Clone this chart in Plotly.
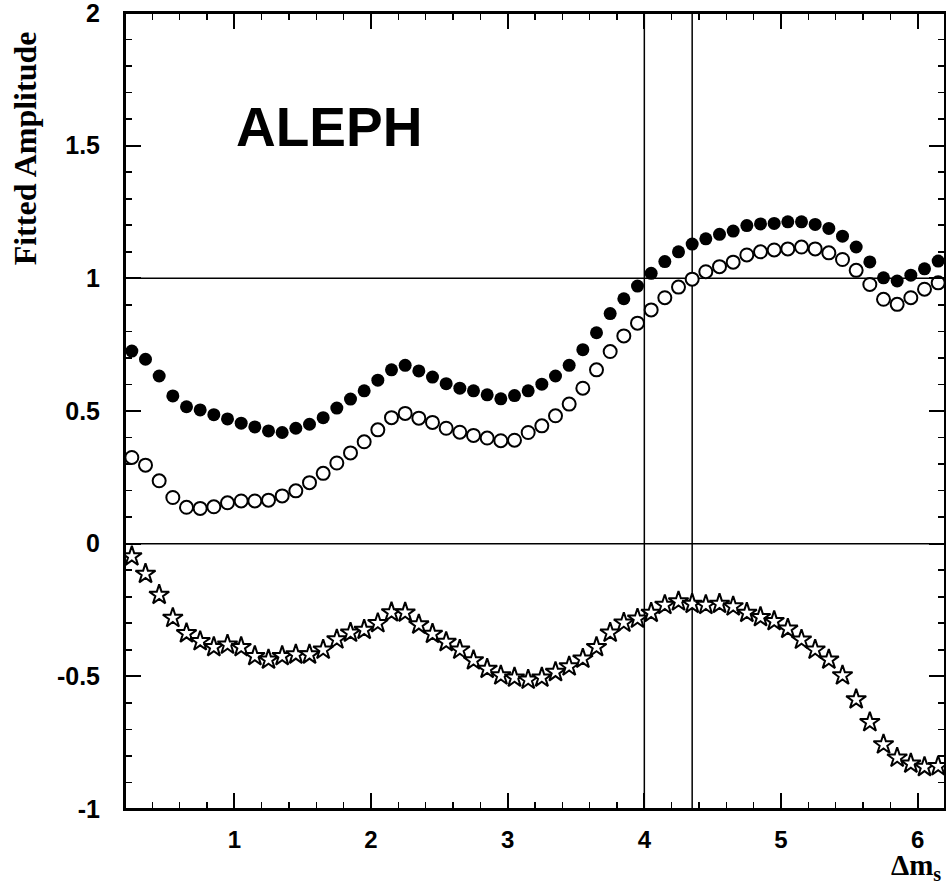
import numpy as np
import plotly.graph_objects as go

# Delta m_s grid (bin centres)
dms = np.round(np.arange(0.25, 6.2, 0.1), 2)

amp_filled = [0.726, 0.695, 0.632, 0.557, 0.516, 0.504, 0.486, 0.470, 0.454, 0.440,
              0.425, 0.419, 0.435, 0.450, 0.475, 0.511, 0.545, 0.576, 0.616, 0.655,
              0.672, 0.651, 0.628, 0.603, 0.586, 0.576, 0.561, 0.546, 0.558, 0.576,
              0.601, 0.632, 0.672, 0.731, 0.795, 0.867, 0.923, 0.971, 1.019, 1.063,
              1.100, 1.129, 1.149, 1.166, 1.178, 1.199, 1.205, 1.207, 1.213, 1.213,
              1.203, 1.188, 1.159, 1.118, 1.062, 1.002, 0.990, 1.012, 1.036, 1.065]

amp_open = [0.325, 0.296, 0.237, 0.174, 0.137, 0.133, 0.139, 0.154, 0.161, 0.161,
            0.164, 0.180, 0.199, 0.230, 0.265, 0.304, 0.342, 0.384, 0.429, 0.475,
            0.491, 0.473, 0.457, 0.435, 0.420, 0.408, 0.398, 0.388, 0.390, 0.419,
            0.444, 0.482, 0.526, 0.586, 0.655, 0.724, 0.783, 0.831, 0.881, 0.927,
            0.967, 0.997, 1.025, 1.044, 1.061, 1.088, 1.100, 1.107, 1.111, 1.118,
            1.111, 1.096, 1.071, 1.030, 0.977, 0.921, 0.902, 0.927, 0.959, 0.983]

amp_star = [-0.048, -0.114, -0.193, -0.280, -0.338, -0.368, -0.390, -0.381, -0.390, -0.424,
            -0.437, -0.424, -0.418, -0.418, -0.400, -0.361, -0.336, -0.325, -0.300, -0.259,
            -0.260, -0.305, -0.340, -0.371, -0.400, -0.440, -0.472, -0.497, -0.505, -0.513,
            -0.505, -0.484, -0.463, -0.434, -0.390, -0.336, -0.298, -0.283, -0.261, -0.231,
            -0.218, -0.227, -0.231, -0.227, -0.237, -0.261, -0.277, -0.292, -0.321, -0.362,
            -0.400, -0.437, -0.497, -0.587, -0.673, -0.757, -0.807, -0.829, -0.842, -0.839]

hlines = [0.0, 1.0]
vlines = [4.0, 4.35]

x_range = [0.2, 6.2]
y_range = [-1.0, 2.0]
x_ticks = [1, 2, 3, 4, 5, 6]
y_ticks = [-1, -0.5, 0, 0.5, 1, 1.5, 2]
y_ticklabels = ["-1", "-0.5", "0", "0.5", "1", "1.5", "2"]

SANS = "Liberation Sans, Arial, Helvetica, sans-serif"
SERIF = "Liberation Serif, Times New Roman, serif"

fig = go.Figure()

fig.add_trace(go.Scatter(x=dms, y=amp_filled, mode="markers",
                         marker=dict(symbol="circle", size=13, color="black",
                                     line=dict(width=0)),
                         showlegend=False, hoverinfo="skip"))
fig.add_trace(go.Scatter(x=dms, y=amp_open, mode="markers",
                         marker=dict(symbol="circle", size=13, color="white",
                                     line=dict(width=2, color="black")),
                         showlegend=False, hoverinfo="skip"))
fig.add_trace(go.Scatter(x=dms, y=amp_star, mode="markers",
                         marker=dict(symbol="star", size=15, color="white",
                                     line=dict(width=2, color="black")),
                         showlegend=False, hoverinfo="skip"))
# invisible trace that carries the mirrored (top / right) tick axes
fig.add_trace(go.Scatter(x=dms, y=amp_star, mode="markers", xaxis="x2", yaxis="y2",
                         marker=dict(size=1, opacity=0), showlegend=False,
                         hoverinfo="skip"))

for h in hlines:
    fig.add_shape(type="line", xref="paper", yref="y", x0=0, x1=1, y0=h, y1=h,
                  line=dict(color="black", width=1.5), layer="below")
for v in vlines:
    fig.add_shape(type="line", xref="x", yref="paper", x0=v, x1=v, y0=0, y1=1,
                  line=dict(color="black", width=1.5), layer="below")

# frame around the plotting area
fig.add_shape(type="rect", xref="paper", yref="paper", x0=0, x1=1, y0=0, y1=1,
              line=dict(color="black", width=2), fillcolor="rgba(0,0,0,0)",
              layer="above")

fig.add_annotation(text="ALEPH", x=1.0, y=1.57, xref="x", yref="y",
                   xanchor="left", yanchor="middle", showarrow=False,
                   font=dict(family=SANS, size=55, color="black", weight="bold"))

fig.add_annotation(text="Fitted Amplitude", xref="paper", yref="paper",
                   x=0, y=0.83, xshift=-100, textangle=-90,
                   xanchor="center", yanchor="middle", showarrow=False,
                   font=dict(family=SERIF, size=32, color="black", weight="bold"))

fig.add_annotation(text="Δm<sub>s</sub>", xref="paper", yref="paper",
                   x=1, y=0, xanchor="right", yanchor="top", yshift=-38, xshift=-2,
                   showarrow=False,
                   font=dict(family=SERIF, size=29, color="black", weight="bold"))

axis_common = dict(showgrid=False, zeroline=False, showline=True, linecolor="black",
                   linewidth=2, ticks="inside", ticklen=16,
                   tickwidth=2, tickcolor="black", ticklabeloverflow="allow",
                   automargin=False, fixedrange=True, layer="above traces")

xminor = dict(ticks="inside", ticklen=7, dtick=0.2, tick0=0.2,
              tickcolor="black", tickwidth=1.6)
yminor = dict(ticks="inside", ticklen=7, dtick=0.1, tick0=0,
              tickcolor="black", tickwidth=1.6)

fig.update_layout(
    xaxis=dict(range=x_range, tickvals=x_ticks, ticklabelstandoff=8,
               tickfont=dict(family=SANS, size=24, color="black", weight="bold"),
               minor=xminor, **axis_common),
    yaxis=dict(range=y_range, tickvals=y_ticks, ticktext=y_ticklabels,
               ticklabelstandoff=18,
               tickfont=dict(family=SANS, size=25, color="black", weight="bold"),
               minor=yminor, **axis_common),
    xaxis2=dict(range=x_range, tickvals=x_ticks, overlaying="x", side="top",
                anchor="y2", showticklabels=False, minor=xminor, **axis_common),
    yaxis2=dict(range=y_range, tickvals=y_ticks, overlaying="y", side="right",
                anchor="x2", showticklabels=False, minor=yminor, **axis_common),
)

fig.update_layout(width=946, height=886,
                  margin=dict(l=125, r=1, t=13, b=77, autoexpand=False),
                  plot_bgcolor="white", paper_bgcolor="white")

fig.write_html("out.html",
               config={"displayModeBar": False, "staticPlot": True},
               post_script="document.body.style.margin='0px';"
                           "document.documentElement.style.overflow='hidden';")
